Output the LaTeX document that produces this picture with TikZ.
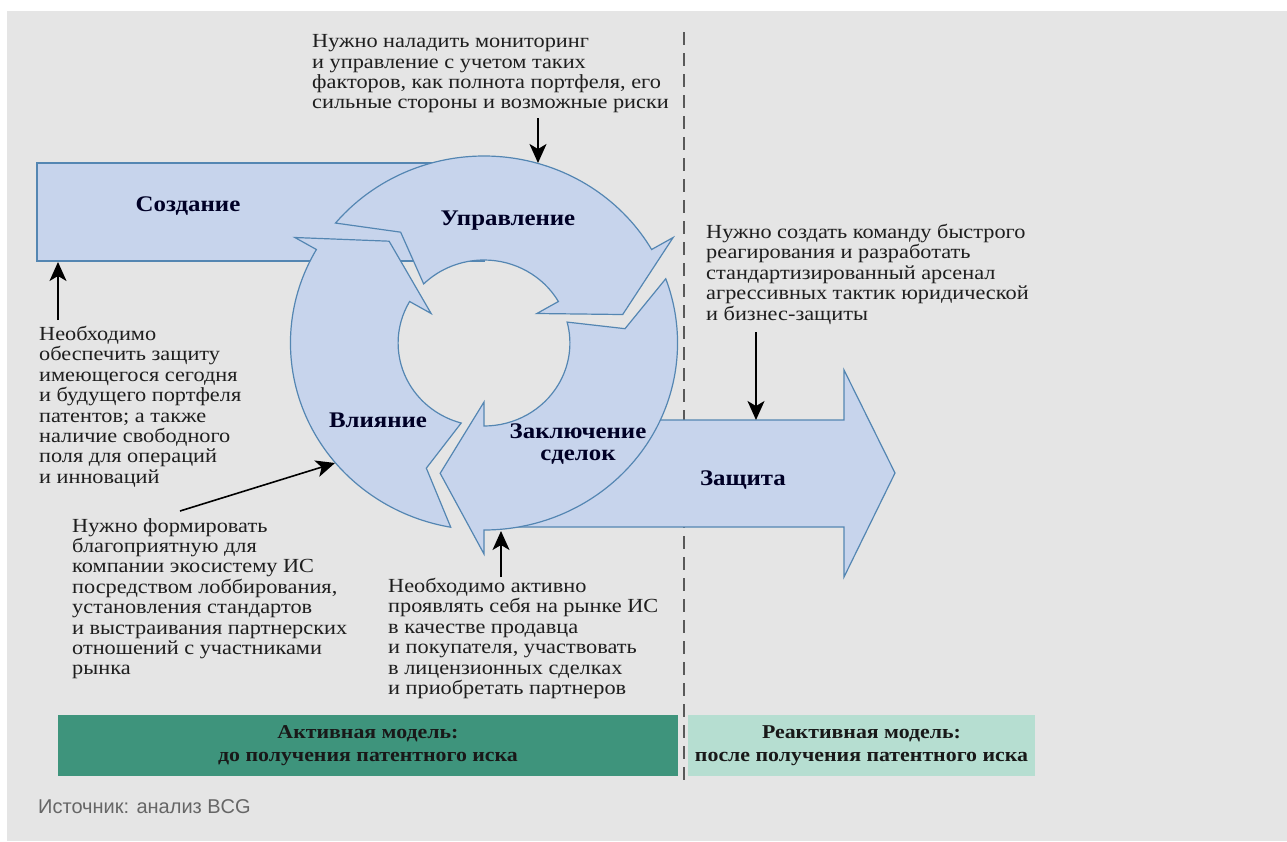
\documentclass[tikz,border=0pt]{standalone}
\usepackage{fontspec}
\setmainfont{Liberation Serif}[FakeStretch=1.115]
\newfontfamily\sourcefont{Liberation Sans}
\usetikzlibrary{arrows.meta}

\definecolor{panelgray}{RGB}{229,229,229}
\definecolor{arrowfill}{RGB}{199,212,236}
\definecolor{arrowline}{RGB}{84,134,178}
\definecolor{activegreen}{RGB}{62,148,124}
\definecolor{reactivegreen}{RGB}{182,222,209}
\definecolor{notegray}{RGB}{30,30,30}

\tikzset{
  cyclearrow/.style={fill=arrowfill, draw=arrowline, line width=1.2pt, line join=miter},
  notetext/.style={anchor=north west, inner sep=0pt, align=left, text=notegray,
    font=\fontsize{20}{20.4}\selectfont},
  phaselabel/.style={inner sep=0pt, align=center, text=black!85!blue,
    font=\bfseries\fontsize{22.3}{22.5}\selectfont},
  notearrow/.style={line width=1.6pt, -{Stealth[length=19pt, width=17pt, inset=5pt]}},
  modelbox/.style={inner sep=0pt, align=center, minimum height=61pt, text=black!90,
    font=\bfseries\fontsize{19.6}{23}\selectfont},
}

\begin{document}
\begin{tikzpicture}[x=1pt, y=1pt]

\def \cx{484}
\def \cy{-343}
\def \outR{187pt}
\def \inR{83pt}

\useasboundingbox (0,0) rectangle (1287,-841);
\fill[white] (0,0) rectangle (1287,-841);
\fill[panelgray] (7,-11) rectangle (1287,-841);

% divider between the two models
\draw[line width=2pt, draw=black!65, dash pattern=on 13pt off 8pt] (684,-32) -- (684,-780);

% straight arrows behind the cycle
\path[cyclearrow] (37,-163) rectangle (484,-261);
\path[cyclearrow] (655,-420) -- (844,-420) -- (844,-370) -- (895,-473) -- (844,-577)
  -- (844,-527) -- (515,-527) -- cycle;

% the cycle: one arrow, turned three times
\begin{scope}[shift={(\cx,\cy)}, xscale=1.035]
\foreach \rot in {0,-120,120}{
\begin{scope}[rotate=\rot]
\path[cyclearrow] (140.1:\outR) arc[start angle=140.1, end angle=30, radius=\outR]
  -- (30:211pt) -- (12:137pt) -- (30:59pt) -- (30:\inR)
  arc[start angle=30, end angle=134.6, radius=\inR]
  -- (126:137pt) -- cycle;
\end{scope}
}
\end{scope}

\node[phaselabel] (create) at (188,-206) {Создание};
\node[phaselabel] (manage) at (508,-221) {Управление};
\node[phaselabel] (influence) at (378,-420) {Влияние};
\node[phaselabel] (deals) at (578,-444) {Заключение\\сделок};
\node[phaselabel] (defend) at (743,-480) {Защита};

\node[notetext] (monitorNote) at (312,-34.5) {Нужно наладить мониторинг\\и управление с учетом таких\\факторов, как полнота портфеля, его\\сильные стороны и возможные риски};
\node[notetext] (protectNote) at (39,-326) {Необходимо\\обеспечить защиту\\имеющегося сегодня\\и будущего портфеля\\патентов; а также\\наличие свободного\\поля для операций\\и инноваций};
\node[notetext] (ecoNote) at (72,-518) {Нужно формировать\\благоприятную для\\компании экосистему ИС\\посредством лоббирования,\\установления стандартов\\и выстраивания партнерских\\отношений с участниками\\рынка};
\node[notetext] (dealNote) at (388,-578) {Необходимо активно\\проявлять себя на рынке ИС\\в качестве продавца\\и покупателя, участвовать\\в лицензионных сделках\\и приобретать партнеров};
\node[notetext] (teamNote) at (706,-224) {Нужно создать команду быстрого\\реагирования и разработать\\стандартизированный арсенал\\агрессивных тактик юридической\\и бизнес-защиты};

\coordinate (monStart) at (538,-118);
\coordinate (monEnd) at (538,-163);
\coordinate (protStart) at (58,-320);
\coordinate (protEnd) at (58,-262);
\coordinate (ecoStart) at (180,-511);
\coordinate (ecoEnd) at (335,-463);
\coordinate (dealStart) at (501,-577);
\coordinate (dealEnd) at (501,-531);
\coordinate (teamStart) at (756,-332);
\coordinate (teamEnd) at (756,-420);

\draw[notearrow] (monStart) -- (monEnd);
\draw[notearrow] (protStart) -- (protEnd);
\draw[notearrow] (ecoStart) -- (ecoEnd);
\draw[notearrow] (dealStart) -- (dealEnd);
\draw[notearrow] (teamStart) -- (teamEnd);

\node[modelbox, fill=activegreen, minimum width=620pt] (activeModel) at (368,-745.5) {Активная модель:\\до получения патентного иска};
\node[modelbox, fill=reactivegreen, minimum width=347pt] (reactiveModel) at (861.5,-745.5) {Реактивная модель:\\после получения патентного иска};

\node[anchor=west, inner sep=0pt, text=black!60, font=\sourcefont\fontsize{20}{20}\selectfont] (source) at (38,-807) {Источник: анализ BCG};

\end{tikzpicture}
\end{document}
